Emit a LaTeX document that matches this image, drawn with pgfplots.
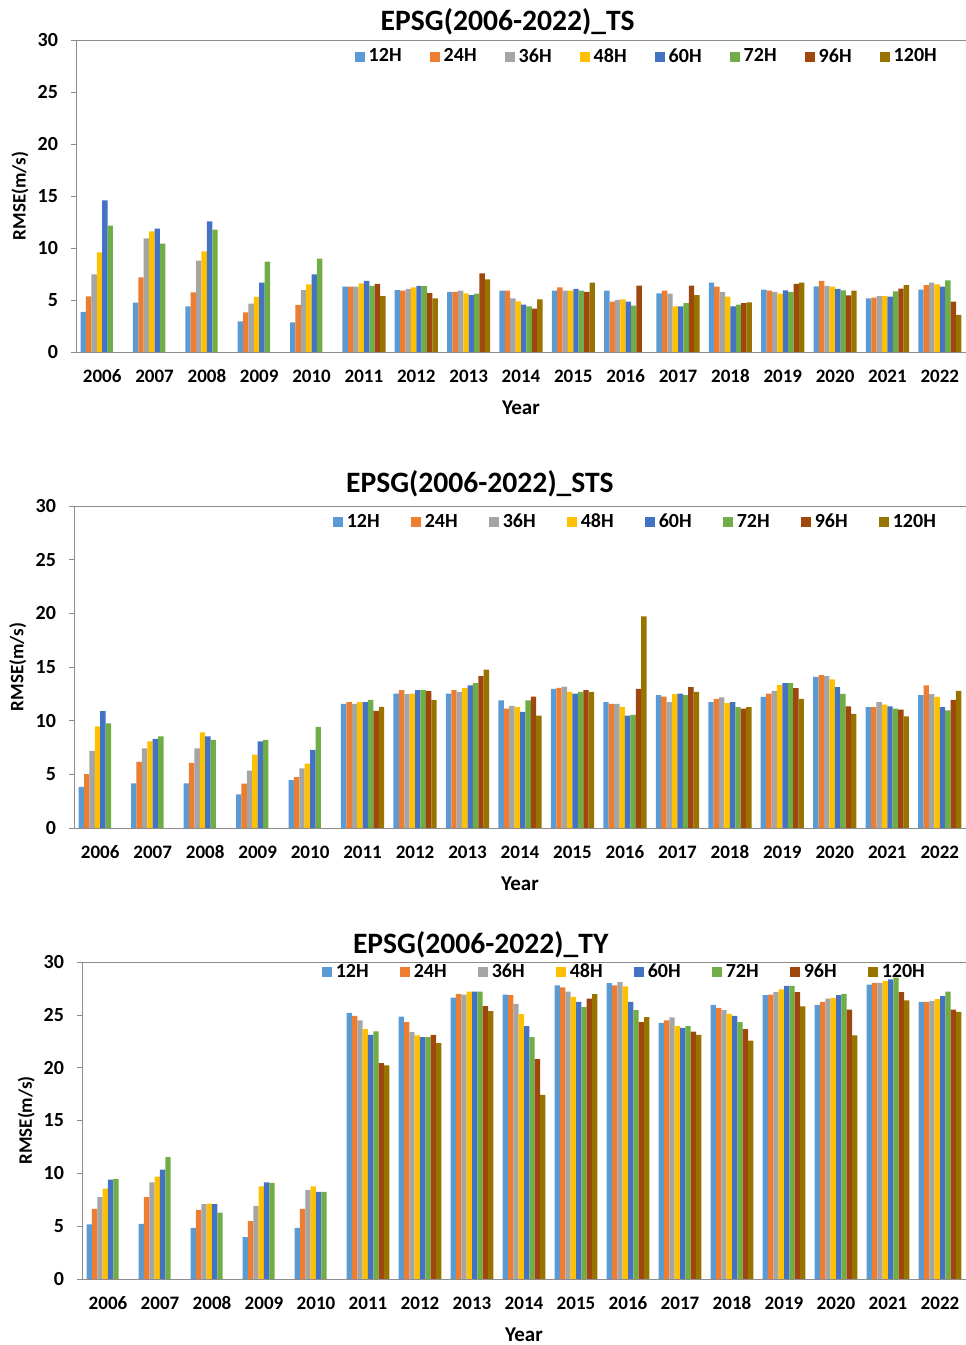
\documentclass[border=0pt]{standalone}
\usepackage{fontspec}
\setmainfont{Carlito}
\usepackage{pgfplots}
\usepackage{pgfplotstable}
\pgfplotsset{compat=1.18}

\definecolor{c12}{HTML}{5B9BD5}
\definecolor{c24}{HTML}{ED7D31}
\definecolor{c36}{HTML}{A5A5A5}
\definecolor{c48}{HTML}{FFC000}
\definecolor{c60}{HTML}{4472C4}
\definecolor{c72}{HTML}{70AD47}
\definecolor{c96}{HTML}{9E480E}
\definecolor{c120}{HTML}{997300}
\definecolor{axgray}{HTML}{8C8C8C}

% RMSE (m/s), year index 0 = 2006
\pgfplotstableread{
x h12 h24 h36 h48 h60 h72 h96 h120
0 3.85 5.35 7.47 9.58 14.58 12.15 nan nan
1 4.74 7.18 10.93 11.60 11.86 10.42 nan nan
2 4.39 5.74 8.78 9.68 12.56 11.76 nan nan
3 2.95 3.81 4.65 5.29 6.67 8.69 nan nan
4 2.85 4.52 5.96 6.51 7.47 8.97 nan nan
5 6.28 6.28 6.28 6.60 6.83 6.35 6.54 5.38
6 5.96 5.90 6.06 6.22 6.35 6.35 5.67 5.16
7 5.77 5.77 5.90 5.64 5.48 5.61 7.56 6.99
8 5.90 5.90 5.16 4.87 4.55 4.39 4.17 5.06
9 5.90 6.22 5.90 5.90 6.06 5.90 5.77 6.67
10 5.90 4.84 5.00 5.06 4.84 4.46 6.38 nan
11 5.64 5.90 5.61 4.39 4.39 4.71 6.38 5.48
12 6.67 6.28 5.77 5.32 4.39 4.55 4.71 4.78
13 5.99 5.90 5.77 5.61 5.93 5.77 6.54 6.67
14 6.31 6.83 6.35 6.28 6.06 5.93 5.45 5.90
15 5.16 5.22 5.38 5.38 5.32 5.83 6.09 6.44
16 5.99 6.44 6.67 6.51 6.28 6.89 4.84 3.56
}\tsdata

\pgfplotstableread{
x h12 h24 h36 h48 h60 h72 h96 h120
0 3.84 5.03 7.19 9.47 10.88 9.75 nan nan
1 4.16 6.16 7.41 8.06 8.31 8.53 nan nan
2 4.16 6.06 7.41 8.91 8.53 8.22 nan nan
3 3.13 4.13 5.34 6.84 8.06 8.22 nan nan
4 4.47 4.75 5.56 6.00 7.28 9.41 nan nan
5 11.56 11.72 11.56 11.72 11.72 11.94 10.91 11.28
6 12.53 12.84 12.47 12.53 12.84 12.84 12.75 11.91
7 12.53 12.84 12.69 13.06 13.28 13.50 14.16 14.75
8 11.88 11.13 11.38 11.25 10.81 11.88 12.25 10.47
9 12.97 13.06 13.16 12.69 12.53 12.69 12.84 12.69
10 11.72 11.56 11.56 11.25 10.47 10.53 12.97 19.72
11 12.38 12.25 11.72 12.47 12.53 12.38 13.13 12.69
12 11.72 12.03 12.16 11.63 11.72 11.25 11.13 11.25
13 12.22 12.53 12.78 13.34 13.50 13.50 13.03 12.03
14 14.09 14.25 14.16 13.84 13.13 12.50 11.34 10.63
15 11.25 11.25 11.72 11.50 11.34 11.13 11.03 10.41
16 12.38 13.28 12.47 12.22 11.25 10.97 11.94 12.78
}\stsdata

\pgfplotstableread{
x h12 h24 h36 h48 h60 h72 h96 h120
0 5.16 6.64 7.74 8.55 9.40 9.47 nan nan
1 5.22 7.74 9.15 9.69 10.35 11.54 nan nan
2 4.84 6.54 7.08 7.14 7.08 6.29 nan nan
3 3.96 5.47 6.92 8.77 9.15 9.09 nan nan
4 4.84 6.64 8.40 8.77 8.24 8.24 nan nan
5 25.19 24.91 24.47 23.65 23.11 23.43 20.44 20.22
6 24.84 24.31 23.36 23.05 22.89 22.89 23.11 22.33
7 26.64 26.98 26.92 27.20 27.20 27.20 25.82 25.35
8 26.92 26.86 26.04 25.06 23.93 22.89 20.82 17.42
9 27.80 27.60 27.20 26.70 26.23 25.72 26.54 26.95
10 28.00 27.80 28.10 27.70 26.23 25.44 24.31 24.78
11 24.25 24.47 24.75 23.93 23.77 23.93 23.40 23.11
12 25.94 25.66 25.44 25.09 24.91 24.31 23.65 22.55
13 26.86 26.92 27.14 27.42 27.74 27.74 27.14 25.79
14 25.94 26.23 26.54 26.60 26.86 26.98 25.50 23.05
15 27.86 28.02 28.02 28.21 28.36 28.52 27.14 26.38
16 26.23 26.23 26.32 26.48 26.76 27.20 25.50 25.28
}\tydata

\newcommand{\entry}[2]{\makebox[#1][l]{#2}}

\pgfplotsset{
  panel/.style={
    scale only axis,
    anchor=south west,
    ybar=0pt, bar width=0.103,
    xmin=-0.5, xmax=16.5, ymin=0, ymax=30,
    ytick={0,5,10,15,20,25,30},
    xtick={0,...,16},
    xticklabels={2006,2007,2008,2009,2010,2011,2012,2013,2014,2015,2016,2017,2018,2019,2020,2021,2022},
    /pgf/number format/assume math mode=true,
    tick align=outside, major tick length=2.5pt,
    ytick pos=left,
    xtick style={draw=none},
    ytick style={draw=axgray},
    axis line style={draw=axgray},
    yticklabel style={font=\bfseries\fontsize{10}{12}\selectfont, xshift=-3pt},
    xticklabel style={font=\bfseries\fontsize{9.5}{11}\selectfont, anchor=base, yshift=-12.8pt},
    xlabel={Year}, ylabel={RMSE(m/s)},
    xlabel style={font=\bfseries\fontsize{10.5}{12}\selectfont, at={(axis description cs:0.5,0)}, anchor=center, yshift=-28pt},
    ylabel style={font=\bfseries\fontsize{9.5}{11}\selectfont, at={(axis description cs:-0.063,0.5)}, anchor=center},
    legend columns=-1,
    legend style={draw=none, fill=none, anchor=west, font=\bfseries\fontsize{10}{12}\selectfont},
    legend image code/.code={\path[##1,draw=none] (0pt,-2.5pt) rectangle (5pt,2.5pt);},
    every axis plot/.append style={draw=none},
  },
}

\newcommand{\bars}[1]{%
  \addplot[fill=c12] table[x=x,y=h12] {#1};
  \addplot[fill=c24] table[x=x,y=h24] {#1};
  \addplot[fill=c36] table[x=x,y=h36] {#1};
  \addplot[fill=c48] table[x=x,y=h48] {#1};
  \addplot[fill=c60] table[x=x,y=h60] {#1};
  \addplot[fill=c72] table[x=x,y=h72] {#1};
  \addplot[fill=c96] table[x=x,y=h96] {#1};
  \addplot[fill=c120] table[x=x,y=h120] {#1};
}

\begin{document}
\begin{tikzpicture}
\useasboundingbox (0,0) rectangle (482.5pt,672.5pt);

% TS
\begin{axis}[panel, at={(38pt,496.5pt)}, width=445pt, height=156pt,
  title={EPSG(2006-2022)\_TS},
  title style={at={(axis description cs:0.485,1)}, anchor=base, yshift=-1.25pt, font=\bfseries\fontsize{14.8}{16}\selectfont},
  legend style={at={(axis description cs:0.306,0.946)}},
  legend entries={\entry{28.5pt}{12H},\entry{28.5pt}{24H},\entry{28.5pt}{36H},\entry{28.5pt}{48H},\entry{28.5pt}{60H},\entry{28.5pt}{72H},\entry{28.5pt}{96H},\entry{28.5pt}{120H}}]
\bars{\tsdata}
\end{axis}

% STS
\begin{axis}[panel, at={(37pt,258.5pt)}, width=446pt, height=161pt,
  title={EPSG(2006-2022)\_STS},
  title style={at={(axis description cs:0.455,1)}, anchor=base, yshift=0.75pt, font=\bfseries\fontsize{14.8}{16}\selectfont},
  legend style={at={(axis description cs:0.283,0.95)}},
  legend entries={\entry{30pt}{12H},\entry{30pt}{24H},\entry{30pt}{36H},\entry{30pt}{48H},\entry{30pt}{60H},\entry{30pt}{72H},\entry{30pt}{96H},\entry{30pt}{120H}}]
\bars{\stsdata}
\end{axis}

% TY
\begin{axis}[panel, at={(41pt,33pt)}, width=442pt, height=158.5pt,
  title={EPSG(2006-2022)\_TY},
  title style={at={(axis description cs:0.451,1)}, anchor=base, yshift=-1.75pt, font=\bfseries\fontsize{14.8}{16}\selectfont},
  legend style={at={(axis description cs:0.264,0.968)}},
  legend entries={\entry{30pt}{12H},\entry{30pt}{24H},\entry{30pt}{36H},\entry{30pt}{48H},\entry{30pt}{60H},\entry{30pt}{72H},\entry{30pt}{96H},\entry{30pt}{120H}}]
\bars{\tydata}
\end{axis}
\end{tikzpicture}
\end{document}
